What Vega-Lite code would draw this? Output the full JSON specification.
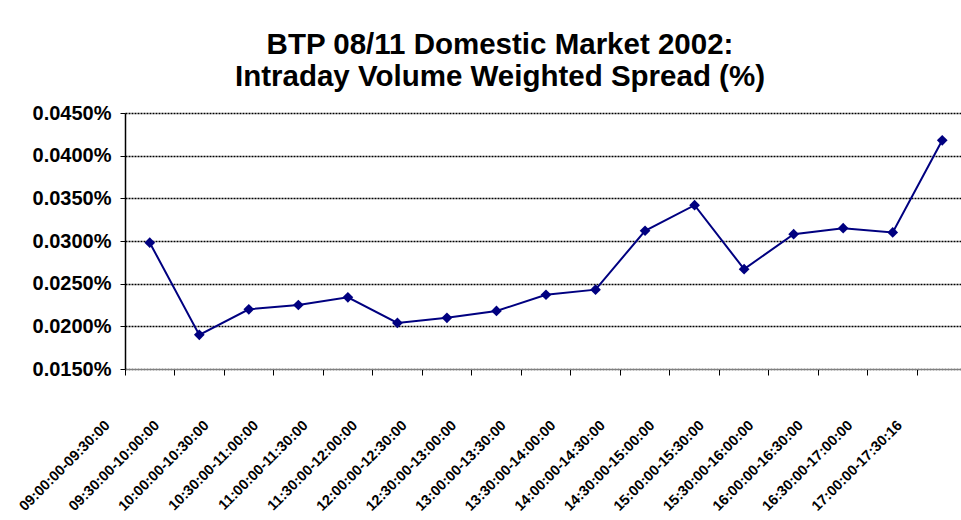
{
  "$schema": "https://vega.github.io/schema/vega-lite/v6.json",
  "autosize": {"type": "none"},
  "padding": {"left": 125, "top": 113, "right": 0, "bottom": 151},
  "width": 842,
  "height": 256,
  "background": "white",
  "title": {
    "text": ["BTP 08/11 Domestic Market 2002:", "Intraday Volume Weighted Spread (%)"],
    "font": "Liberation Sans",
    "fontSize": 29.5,
    "fontWeight": "bold",
    "color": "black",
    "anchor": "middle",
    "dx": -46,
    "offset": 11,
    "lineHeight": 32
  },
  "data": {
    "values": [
      {"interval": "09:00:00-09:30:00", "spread": 0.000298},
      {"interval": "09:30:00-10:00:00", "spread": 0.000190},
      {"interval": "10:00:00-10:30:00", "spread": 0.000220},
      {"interval": "10:30:00-11:00:00", "spread": 0.000225},
      {"interval": "11:00:00-11:30:00", "spread": 0.000234},
      {"interval": "11:30:00-12:00:00", "spread": 0.000204},
      {"interval": "12:00:00-12:30:00", "spread": 0.000210},
      {"interval": "12:30:00-13:00:00", "spread": 0.000218},
      {"interval": "13:00:00-13:30:00", "spread": 0.000237},
      {"interval": "13:30:00-14:00:00", "spread": 0.000243},
      {"interval": "14:00:00-14:30:00", "spread": 0.000312},
      {"interval": "14:30:00-15:00:00", "spread": 0.000342},
      {"interval": "15:00:00-15:30:00", "spread": 0.000267},
      {"interval": "15:30:00-16:00:00", "spread": 0.000308},
      {"interval": "16:00:00-16:30:00", "spread": 0.000315},
      {"interval": "16:30:00-17:00:00", "spread": 0.000310},
      {"interval": "17:00:00-17:30:16", "spread": 0.000418}
    ]
  },
  "encoding": {
    "x": {
      "field": "interval",
      "type": "ordinal",
      "sort": null,
      "scale": {"type": "band", "paddingInner": 0, "paddingOuter": 0},
      "axis": {
        "title": null,
        "bandPosition": 0,
        "labelAngle": -45,
        "labelAlign": "right",
        "labelBaseline": "middle",
        "labelOffset": -42,
        "labelPadding": 48,
        "labelFont": "Liberation Sans",
        "labelFontSize": 14.5,
        "labelFontWeight": "bold",
        "labelColor": "black",
        "labelOverlap": false,
        "labelBound": false,
        "domainColor": "#808080",
        "domainWidth": 1,
        "tickColor": "black",
        "tickSize": 6,
        "grid": false
      }
    },
    "y": {
      "field": "spread",
      "type": "quantitative",
      "scale": {"domain": [0.00015, 0.00045], "nice": false, "zero": false},
      "axis": {
        "title": null,
        "values": [0.00015, 0.0002, 0.00025, 0.0003, 0.00035, 0.0004, 0.00045],
        "format": ".4%",
        "labelFont": "Liberation Sans",
        "labelFontSize": 20,
        "labelFontWeight": "bold",
        "labelColor": "black",
        "labelPadding": 9,
        "domainColor": "black",
        "domainWidth": 1.5,
        "tickColor": "black",
        "tickSize": 5,
        "grid": true,
        "gridColor": "black",
        "gridDash": [2, 1],
        "gridWidth": 1.4
      }
    }
  },
  "layer": [
    {"mark": {"type": "line", "color": "#000080", "strokeWidth": 2}},
    {"mark": {"type": "point", "shape": "diamond", "filled": true, "color": "#000080", "size": 115, "opacity": 1}}
  ],
  "config": {"view": {"stroke": null}}
}
